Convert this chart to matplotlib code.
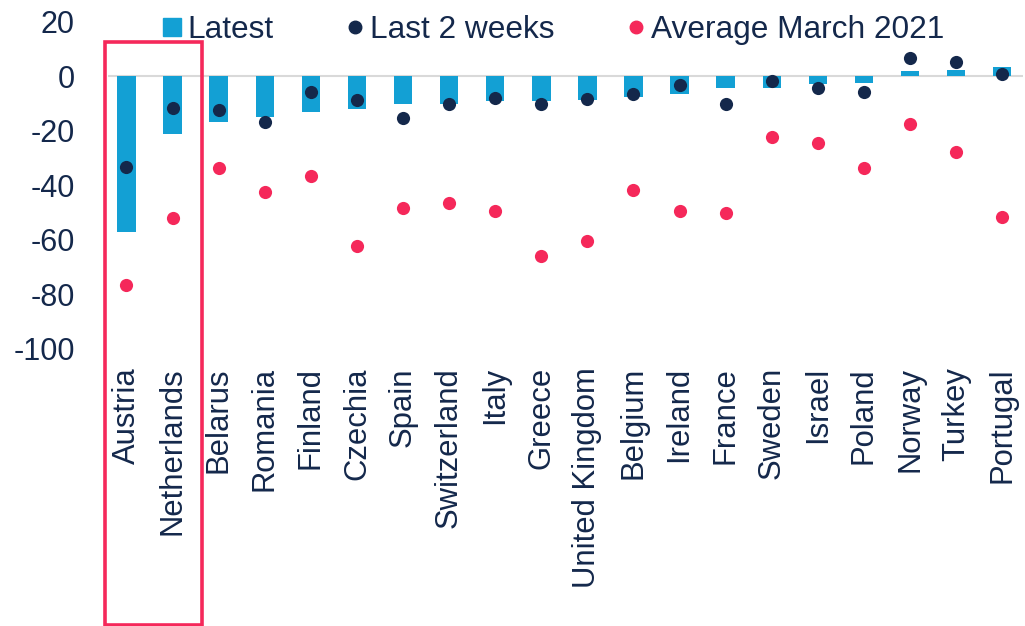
import matplotlib
matplotlib.use("Agg")
import matplotlib.pyplot as plt
from matplotlib.lines import Line2D
from matplotlib.patches import Rectangle
import numpy as np

plt.rcParams['font.family'] = ['Liberation Sans', 'DejaVu Sans']

countries = ["Austria", "Netherlands", "Belarus", "Romania", "Finland", "Czechia",
             "Spain", "Switzerland", "Italy", "Greece", "United Kingdom", "Belgium",
             "Ireland", "France", "Sweden", "Israel", "Poland", "Norway", "Turkey",
             "Portugal"]
latest = [-57, -21.2, -17, -15.1, -13.3, -12.1, -10.4, -10.4, -9, -9, -8.8, -7.6,
          -6.5, -4.5, -4.5, -3, -2.4, 1.9, 2.3, 3.3]
last_2_weeks = [-33.2, -11.8, -12.3, -17, -6, -8.8, -15.3, -10.4, -8.1, -10.1, -8.5,
                -6.5, -3.3, -10.3, -1.7, -4.4, -6, 6.5, 5.3, 0.6]
avg_march_2021 = [-76.6, -52.1, -33.6, -42.6, -36.7, -62.4, -48.2, -46.6, -49.6, -66,
                  -60.4, -41.8, -49.3, -50.2, -22.2, -24.5, -33.8, -17.6, -27.7, -51.8]
yticks = [20, 0, -20, -40, -60, -80, -100]

BLUE = "#13A0D4"
NAVY = "#14284B"
PINK = "#F5285A"

fig = plt.figure(figsize=(10.25, 6.26), dpi=100)
ax = fig.add_axes([108/1025, 1 - 349/626, (1023 - 108)/1025, (349 - 21.4)/626])

x = np.arange(len(countries))
ax.bar(x, latest, width=0.4, color=BLUE, zorder=2)
ax.axhline(0, color="#D9D9D9", lw=1.5, zorder=1)
ax.scatter(x, last_2_weeks, s=90, color=NAVY, zorder=3, linewidths=0)
ax.scatter(x, avg_march_2021, s=90, color=PINK, zorder=3, linewidths=0)

ax.set_xlim(-0.4, len(countries) - 0.55)
ax.set_ylim(-100, 20)
ax.set_yticks(yticks)
ax.set_yticklabels([str(v) for v in yticks])
ax.set_xticks(x)
ax.set_xticklabels(countries, rotation=90, ha="center", va="top")
ax.tick_params(axis="y", length=0, pad=24, labelsize=22, labelcolor=NAVY)
ax.tick_params(axis="x", length=0, pad=13, labelsize=22.3, labelcolor=NAVY)
for s in ax.spines.values():
    s.set_visible(False)

handles = [
    Line2D([], [], marker="s", linestyle="none", color=BLUE, markersize=12.5),
    Line2D([], [], marker="o", linestyle="none", color=NAVY, markersize=9),
    Line2D([], [], marker="o", linestyle="none", color=PINK, markersize=9),
]
leg = fig.legend(handles, ["Latest", "Last 2 weeks", "Average March 2021"],
                 loc="center left", bbox_to_anchor=(156/1025, 1 - 30/626),
                 ncol=3, frameon=False, fontsize=22.8, handletextpad=0.0,
                 columnspacing=2.05, handlelength=1.0, borderaxespad=0, borderpad=0)
for t in leg.get_texts():
    t.set_color(NAVY)

fig.patches.append(Rectangle((105/1025, 1 - 625/626), (202 - 105)/1025, (625 - 42)/626,
                             transform=fig.transFigure, fill=False,
                             edgecolor=PINK, lw=2.6, zorder=10))

fig.savefig("out.png", dpi=100)
